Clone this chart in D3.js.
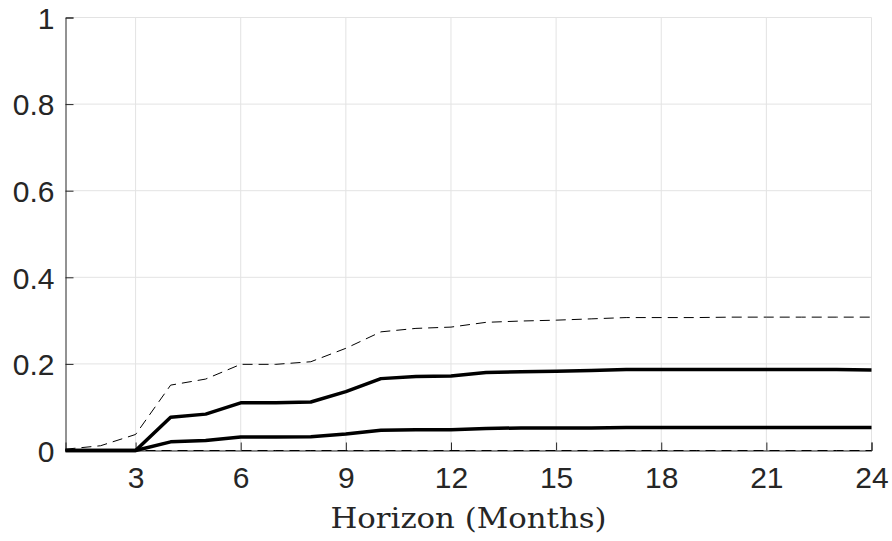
<!doctype html>
<html>
<head>
  <meta charset="utf-8">
  <title>Horizon chart</title>
  <script src="https://cdnjs.cloudflare.com/ajax/libs/d3/7.8.5/d3.min.js"></script>
  <style>
    body { margin: 0; background: #fff; }
    svg { display: block; }
  </style>
</head>
<body>
  <div id="chart"></div>
  <script>
    // horizon 1..24 months
    const horizon = d3.range(1, 25);

    // upper band (dashed)
    const upperDashed = [0.003, 0.011, 0.037, 0.151, 0.165, 0.199, 0.199, 0.205, 0.236, 0.274, 0.282, 0.285,
      0.296, 0.299, 0.301, 0.304, 0.307, 0.307, 0.307, 0.308, 0.308, 0.308, 0.308, 0.308];
    // upper thick line
    const upperSolid = [0, 0, 0, 0.077, 0.084, 0.110, 0.110, 0.112, 0.136, 0.166, 0.171, 0.172,
      0.180, 0.182, 0.183, 0.185, 0.187, 0.187, 0.187, 0.187, 0.187, 0.187, 0.187, 0.186];
    // lower thick line
    const lowerSolid = [0, 0, 0, 0.020, 0.023, 0.031, 0.031, 0.032, 0.038, 0.047, 0.048, 0.048,
      0.051, 0.052, 0.052, 0.052, 0.053, 0.053, 0.053, 0.053, 0.053, 0.053, 0.053, 0.053];
    // lower band (dashed) sits at zero
    const lowerDashed = [0, 0, 0, 0, 0, 0, 0, 0, 0, 0, 0, 0,
      0, 0, 0, 0, 0, 0, 0, 0, 0, 0, 0, 0];

    const xTicks = [3, 6, 9, 12, 15, 18, 21, 24];
    const yTicks = [0, 0.2, 0.4, 0.6, 0.8, 1];
    const yTickLabels = ['0', '0.2', '0.4', '0.6', '0.8', '1'];
    const xLabel = 'Horizon (Months)';

    const width = 892, height = 541;
    const margin = { left: 65.5, right: 20.5, top: 17.5, bottom: 90.5 };

    const svg = d3.select('#chart').append('svg')
      .attr('width', width)
      .attr('height', height);

    const x = d3.scaleLinear().domain([1, 24]).range([margin.left, width - margin.right]);
    const y = d3.scaleLinear().domain([0, 1]).range([height - margin.bottom, margin.top]);

    const axisColor = '#262626';
    const gridColor = '#e3e3e3';

    // grid
    svg.append('g')
      .selectAll('line.vgrid')
      .data(xTicks)
      .join('line')
      .attr('x1', d => x(d)).attr('x2', d => x(d))
      .attr('y1', y(0)).attr('y2', y(1))
      .attr('stroke', gridColor).attr('stroke-width', 1);

    svg.append('g')
      .selectAll('line.hgrid')
      .data(yTicks)
      .join('line')
      .attr('x1', x(1)).attr('x2', x(24))
      .attr('y1', d => y(d)).attr('y2', d => y(d))
      .attr('stroke', gridColor).attr('stroke-width', 1);

    // axes (ticks pointing inward, like matlab)
    const xAxis = d3.axisBottom(x).tickValues(xTicks).tickSize(-8).tickPadding(18).tickFormat(d3.format('d'));
    const yAxis = d3.axisLeft(y).tickValues(yTicks).tickSize(-8).tickPadding(12)
      .tickFormat((d, i) => yTickLabels[i]);

    const gx = svg.append('g')
      .attr('transform', `translate(0,${y(0)})`)
      .call(xAxis);
    const gy = svg.append('g')
      .attr('transform', `translate(${x(1)},0)`)
      .call(yAxis);

    [gx, gy].forEach(g => {
      g.select('.domain').attr('stroke', axisColor).attr('stroke-width', 1);
      g.selectAll('.tick line').attr('stroke', axisColor).attr('stroke-width', 1);
      g.selectAll('.tick text')
        .attr('fill', axisColor)
        .style('font-family', '"Liberation Sans", Arial, sans-serif')
        .style('font-size', '30px');
    });
    gx.selectAll('.tick text').attr('dy', '0.71em').attr('y', 16);
    gy.selectAll('.tick text').attr('dy', '0.36em').attr('x', -11);

    // lines
    const line = d3.line()
      .x((d, i) => x(horizon[i]))
      .y(d => y(d));

    const series = [
      { values: lowerDashed, width: 1, dash: '10,6', color: '#000' },
      { values: upperDashed, width: 1, dash: '10,6', color: '#000' },
      { values: lowerSolid, width: 3.5, dash: null, color: '#000' },
      { values: upperSolid, width: 3.5, dash: null, color: '#000' }
    ];

    svg.append('g')
      .selectAll('path.series')
      .data(series)
      .join('path')
      .attr('class', 'series')
      .attr('d', d => line(d.values))
      .attr('fill', 'none')
      .attr('stroke', d => d.color)
      .attr('stroke-width', d => d.width)
      .attr('stroke-dasharray', d => d.dash)
      .attr('stroke-linejoin', 'round');

    // x label
    svg.append('text')
      .attr('x', (x(1) + x(24)) / 2)
      .attr('y', 528)
      .attr('text-anchor', 'middle')
      .attr('fill', axisColor)
      .attr('textLength', 276)
      .attr('lengthAdjust', 'spacingAndGlyphs')
      .style('font-family', '"DejaVu Serif", "Liberation Serif", serif')
      .style('font-weight', 'normal')
      .style('font-size', '28px')
      .text(xLabel);
  </script>
</body>
</html>
